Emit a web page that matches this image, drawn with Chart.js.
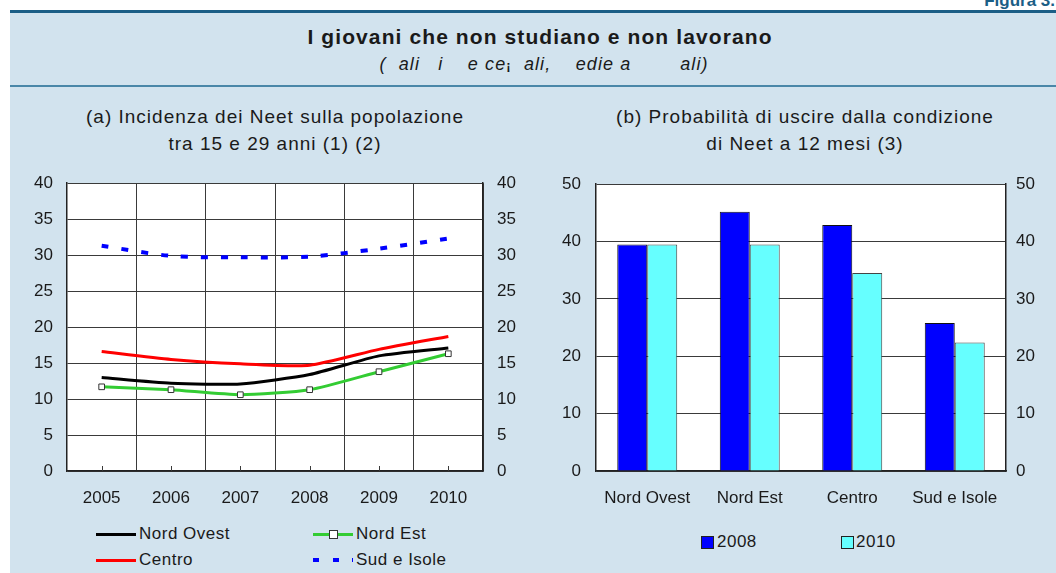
<!DOCTYPE html>
<html>
<head>
<meta charset="utf-8">
<script src="https://cdn.jsdelivr.net/npm/chart.js@4/dist/chart.umd.min.js"></script>
<style>
  body { margin: 0; width: 1056px; height: 573px; overflow: hidden; background: #fff; position: relative;
         font-family: "Liberation Sans", Arial, sans-serif; color: #1a1a1a; }
  .panel { position: absolute; left: 10px; top: 10px; right: 0; bottom: 0; background: #d2e3ee; }
  .rule-top { position: absolute; left: 10px; right: 0; top: 10px; height: 3px; background: #1b5e86; }
  .rule-mid { position: absolute; left: 10px; right: 0; top: 85px; height: 2px; background: #4a87a8; }
  .fig { position: absolute; right: 1px; top: -9px; font-weight: bold; font-size: 17px; color: #1b5e86; }
  .title { position: absolute; left: 240px; width: 600px; top: 26px; text-align: center;
           font-weight: bold; font-size: 21px; line-height: 21px; letter-spacing: 1.1px; }
  .sub { position: absolute; left: 244px; width: 600px; top: 54px; text-align: center; white-space: pre;
         font-style: italic; font-size: 18px; line-height: 20px; letter-spacing: 1.1px; }
  .sub b { font-size: 13px; font-style: normal; }
  .ctitle { position: absolute; text-align: center; font-size: 19px; line-height: 26.5px; letter-spacing: 1px; }
  canvas { position: absolute; }
  .leg { position: absolute; font-size: 17px; letter-spacing: 0.5px; line-height: 20px; }
  .ln { position: absolute; height: 3px; width: 40px; }
  .mk { position: absolute; width: 7px; height: 7px; background: #fff; border: 1px solid #333; }
  .dash { position: absolute; height: 4px; background: #0000ff; }
  .sq { position: absolute; width: 11px; height: 11px; border: 1px solid #222; }
</style>
</head>
<body>
<div class="panel"></div>
<div class="rule-top"></div>
<div class="rule-mid"></div>
<div class="fig">Figura 3.</div>
<div class="title">I giovani che non studiano e non lavorano</div>
<div class="sub">(  ali   i    e ce<b>¡</b>  ali,    edie a        ali)</div>

<div class="ctitle" style="left:25px; width:500px; top:104px;">(a) Incidenza dei Neet sulla popolazione<br>tra 15 e 29 anni (1) (2)</div>
<div class="ctitle" style="left:555px; width:500px; top:104px;">(b) Probabilità di uscire dalla condizione<br>di Neet a 12 mesi (3)</div>

<canvas id="lineChart" width="510" height="352" style="left:10px; top:159px;"></canvas>
<canvas id="barChart" width="536" height="352" style="left:520px; top:159px;"></canvas>

<!-- legend (a) -->
<div class="ln" style="left:96px; top:533px; background:#000;"></div>
<div class="leg" style="left:139px; top:524px;">Nord Ovest</div>
<div class="ln" style="left:313px; top:533px; background:#33cc33;"></div>
<div class="mk" style="left:329px; top:530px;"></div>
<div class="leg" style="left:356px; top:524px;">Nord Est</div>
<div class="ln" style="left:96px; top:559px; background:#ff0000;"></div>
<div class="leg" style="left:139px; top:550px;">Centro</div>
<div class="dash" style="left:313px; top:558px; width:6px;"></div>
<div class="dash" style="left:333px; top:558px; width:6px;"></div>
<div class="dash" style="left:352px; top:558px; width:1px;"></div>
<div class="leg" style="left:356px; top:550px;">Sud e Isole</div>

<!-- legend (b) -->
<div class="sq" style="left:701px; top:536px; background:#0000ff;"></div>
<div class="leg" style="left:717px; top:532px;">2008</div>
<div class="sq" style="left:841px; top:536px; background:#66ffff;"></div>
<div class="leg" style="left:856px; top:532px;">2010</div>

<script>
// (a) incidenza dei Neet, valori percentuali
const years = ['2005', '2006', '2007', '2008', '2009', '2010'];
const nordOvest = [13.0, 12.2, 12.1, 13.4, 16.0, 17.1];
const nordEst = [11.7, 11.3, 10.6, 11.3, 13.8, 16.3];
const centro = [16.6, 15.5, 14.9, 14.7, 16.9, 18.7];
const sudIsole = [31.3, 29.9, 29.7, 29.8, 30.9, 32.3];
const lineMax = 40, lineStep = 5;

// (b) probabilita' di uscire dalla condizione di Neet
const regions = ['Nord Ovest', 'Nord Est', 'Centro', 'Sud e Isole'];
const prob2008 = [39.5, 45.2, 42.9, 25.8];
const prob2010 = [39.5, 39.5, 34.5, 22.4];
const barMax = 50, barStep = 10;

Chart.defaults.font.family = '"Liberation Sans", Arial, sans-serif';
Chart.defaults.font.size = 17;
Chart.defaults.color = '#1a1a1a';
Chart.defaults.animation = false;

const gridCol = '#3a3a3a';
const frameCol = '#222';

// white plot area
const plotBg = {
  id: 'plotBg',
  beforeDraw(c) {
    const a = c.chartArea;
    c.ctx.save();
    c.ctx.fillStyle = '#fff';
    c.ctx.fillRect(a.left, a.top, a.right - a.left, a.bottom - a.top);
    c.ctx.restore();
  }
};

// small inward tick marks at the year positions
const yearTicks = {
  id: 'yearTicks',
  beforeDatasetsDraw(c) {
    const x = c.scales.x, a = c.chartArea, ctx = c.ctx;
    ctx.save();
    ctx.strokeStyle = gridCol;
    ctx.lineWidth = 1;
    years.forEach((_, i) => {
      const px = Math.round(x.getPixelForTick(i)) + 0.5;
      ctx.beginPath();
      ctx.moveTo(px, a.bottom);
      ctx.lineTo(px, a.bottom - 5);
      ctx.stroke();
    });
    ctx.restore();
  }
};

function yAxis(pos, max, step, width, pad, grid) {
  return {
    position: pos,
    min: 0, max: max,
    ticks: { stepSize: step, padding: pad },
    grid: { display: grid, color: gridCol, lineWidth: 1, drawTicks: false },
    border: { display: true, color: frameCol, width: 1.5 },
    afterFit(s) { s.width = width; }
  };
}

new Chart(document.getElementById('lineChart'), {
  type: 'line',
  data: {
    labels: years,
    datasets: [
      { label: 'Nord Est', data: nordEst, borderColor: '#33cc33', borderWidth: 3, tension: 0.2,
        pointStyle: 'rect', pointRadius: 4, pointBackgroundColor: '#fff', pointBorderColor: '#333', pointBorderWidth: 1 },
      { label: 'Nord Ovest', data: nordOvest, borderColor: '#000', borderWidth: 3, tension: 0.2, pointRadius: 0 },
      { label: 'Centro', data: centro, borderColor: '#ff0000', borderWidth: 3, tension: 0.2, pointRadius: 0 },
      { label: 'Sud e Isole', data: sudIsole, borderColor: '#0000ff', borderWidth: 4, borderDash: [7, 13],
        tension: 0.3, pointRadius: 0 }
    ]
  },
  options: {
    responsive: false,
    layout: { padding: { top: 12, left: 0, right: 0, bottom: 0 } },
    plugins: { legend: { display: false }, tooltip: { enabled: false } },
    scales: {
      x: {
        offset: true,
        grid: { offset: true, color: gridCol, lineWidth: 1, drawTicks: false },
        border: { display: true, color: frameCol, width: 1.5 },
        ticks: { padding: 17 },
        afterFit(s) { s.height = 40; }
      },
      y: yAxis('left', lineMax, lineStep, 57, 14, true),
      y2: yAxis('right', lineMax, lineStep, 37, 14, false)
    }
  },
  plugins: [plotBg, yearTicks]
});

new Chart(document.getElementById('barChart'), {
  type: 'bar',
  data: {
    labels: regions,
    datasets: [
      { label: '2008', data: prob2008, backgroundColor: '#0000ff', borderColor: '#111', borderWidth: 1 },
      { label: '2010', data: prob2010, backgroundColor: '#66ffff', borderColor: '#444', borderWidth: 1 }
    ]
  },
  options: {
    responsive: false,
    layout: { padding: { top: 12, left: 0, right: 0, bottom: 0 } },
    datasets: { bar: { categoryPercentage: 0.585, barPercentage: 1 } },
    plugins: { legend: { display: false }, tooltip: { enabled: false } },
    scales: {
      x: {
        grid: { display: false, drawTicks: false },
        border: { display: true, color: frameCol, width: 1.5 },
        ticks: { padding: 17 },
        afterFit(s) { s.height = 40; }
      },
      y: yAxis('left', barMax, barStep, 76, 15, true),
      y2: yAxis('right', barMax, barStep, 50, 10, false)
    }
  },
  plugins: [plotBg]
});
</script>
</body>
</html>
